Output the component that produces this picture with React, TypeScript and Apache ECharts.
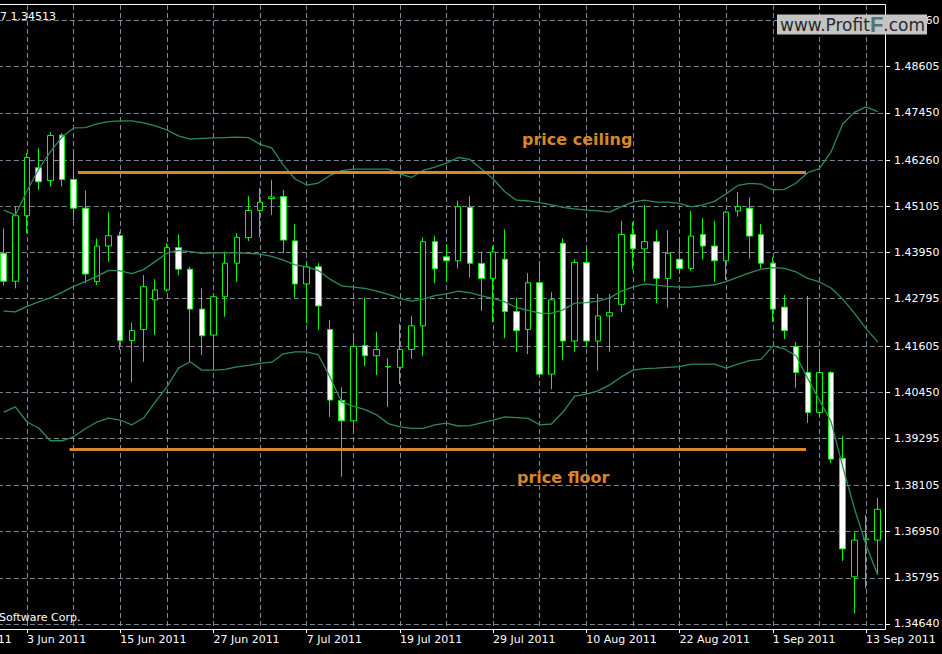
import React, { useEffect, useRef } from "react";
import * as echarts from "echarts";

const categories = [
  "1 Jun 2011", "2 Jun 2011", "3 Jun 2011", "6 Jun 2011", "7 Jun 2011", "8 Jun 2011", "9 Jun 2011", "10 Jun 2011",
  "13 Jun 2011", "14 Jun 2011", "15 Jun 2011", "16 Jun 2011", "17 Jun 2011", "20 Jun 2011", "21 Jun 2011", "22 Jun 2011",
  "23 Jun 2011", "24 Jun 2011", "27 Jun 2011", "28 Jun 2011", "29 Jun 2011", "30 Jun 2011",
  "1 Jul 2011", "4 Jul 2011", "5 Jul 2011", "6 Jul 2011", "7 Jul 2011", "8 Jul 2011", "11 Jul 2011", "12 Jul 2011",
  "13 Jul 2011", "14 Jul 2011", "15 Jul 2011", "18 Jul 2011", "19 Jul 2011", "20 Jul 2011", "21 Jul 2011", "22 Jul 2011",
  "25 Jul 2011", "26 Jul 2011", "27 Jul 2011", "28 Jul 2011", "29 Jul 2011",
  "1 Aug 2011", "2 Aug 2011", "3 Aug 2011", "4 Aug 2011", "5 Aug 2011", "8 Aug 2011", "9 Aug 2011", "10 Aug 2011",
  "11 Aug 2011", "12 Aug 2011", "15 Aug 2011", "16 Aug 2011", "17 Aug 2011", "18 Aug 2011", "19 Aug 2011", "22 Aug 2011",
  "23 Aug 2011", "24 Aug 2011", "25 Aug 2011", "26 Aug 2011", "29 Aug 2011", "30 Aug 2011", "31 Aug 2011",
  "1 Sep 2011", "2 Sep 2011", "5 Sep 2011", "6 Sep 2011", "7 Sep 2011", "8 Sep 2011", "9 Sep 2011", "12 Sep 2011",
  "13 Sep 2011", "14 Sep 2011",
];

const xLabelDates = [
  "3 Jun 2011", "15 Jun 2011", "27 Jun 2011", "7 Jul 2011", "19 Jul 2011",
  "29 Jul 2011", "10 Aug 2011", "22 Aug 2011", "1 Sep 2011", "13 Sep 2011",
];
const partialLeftLabel = "24 May 2011";

const yTicks = [
  1.3464, 1.35795, 1.3695, 1.38105, 1.39295, 1.4045, 1.41605,
  1.42795, 1.4395, 1.45105, 1.4626, 1.4745, 1.48605, 1.4976,
];

// [open, close, low, high]
const candles = [
  [1.4393, 1.4323, 1.4313, 1.4455], [1.4323, 1.4487, 1.4305, 1.4510], [1.4487, 1.4633, 1.4443, 1.4644],
  [1.4607, 1.4572, 1.4552, 1.4656], [1.4575, 1.4688, 1.4560, 1.4696], [1.4689, 1.4578, 1.4560, 1.4694],
  [1.4578, 1.4506, 1.4476, 1.4648], [1.4506, 1.4341, 1.4318, 1.4550], [1.4322, 1.4411, 1.4313, 1.4430],
  [1.4411, 1.4437, 1.4372, 1.4496], [1.4437, 1.4174, 1.4151, 1.4447], [1.4174, 1.4199, 1.4069, 1.4219],
  [1.4202, 1.4309, 1.4121, 1.4338], [1.4276, 1.4301, 1.4188, 1.4328], [1.4301, 1.4407, 1.4296, 1.4418],
  [1.4407, 1.4353, 1.4338, 1.4440], [1.4353, 1.4253, 1.4121, 1.4359], [1.4253, 1.4186, 1.4138, 1.4305],
  [1.4188, 1.4284, 1.4100, 1.4293], [1.4284, 1.4368, 1.4234, 1.4397], [1.4368, 1.4433, 1.4322, 1.4443],
  [1.4432, 1.4500, 1.4424, 1.4536], [1.4500, 1.4521, 1.4433, 1.4556], [1.4530, 1.4534, 1.4489, 1.4577],
  [1.4535, 1.4426, 1.4393, 1.4552], [1.4424, 1.4316, 1.4282, 1.4466], [1.4316, 1.4359, 1.4217, 1.4369],
  [1.4359, 1.4261, 1.4201, 1.4368], [1.4202, 1.4025, 1.3983, 1.4226], [1.4024, 1.3973, 1.3833, 1.4057],
  [1.3973, 1.4159, 1.3946, 1.4190], [1.4162, 1.4136, 1.4110, 1.4282], [1.4136, 1.4152, 1.4088, 1.4196],
  [1.4109, 1.4108, 1.4008, 1.4130], [1.4107, 1.4152, 1.4065, 1.4216], [1.4152, 1.4211, 1.4128, 1.4236],
  [1.4211, 1.4422, 1.4136, 1.4433], [1.4422, 1.4354, 1.4318, 1.4437], [1.4384, 1.4374, 1.4322, 1.4416],
  [1.4374, 1.4510, 1.4355, 1.4525], [1.4508, 1.4368, 1.4333, 1.4536], [1.4367, 1.4330, 1.4249, 1.4397],
  [1.4330, 1.4396, 1.4220, 1.4411], [1.4378, 1.4247, 1.4180, 1.4453], [1.4247, 1.4199, 1.4146, 1.4282],
  [1.4202, 1.4319, 1.4140, 1.4343], [1.4319, 1.4090, 1.4084, 1.4368], [1.4090, 1.4276, 1.4052, 1.4295],
  [1.4418, 1.4173, 1.4125, 1.4430], [1.4173, 1.4370, 1.4146, 1.4378], [1.4370, 1.4173, 1.4157, 1.4403],
  [1.4173, 1.4236, 1.4099, 1.4291], [1.4236, 1.4244, 1.4146, 1.4291], [1.4265, 1.4440, 1.4245, 1.4474],
  [1.4440, 1.4404, 1.4353, 1.4471], [1.4404, 1.4422, 1.4322, 1.4514], [1.4422, 1.4330, 1.4268, 1.4451],
  [1.4330, 1.4393, 1.4257, 1.4451], [1.4378, 1.4355, 1.4344, 1.4433], [1.4355, 1.4436, 1.4349, 1.4499],
  [1.4440, 1.4411, 1.4378, 1.4481], [1.4411, 1.4374, 1.4322, 1.4474], [1.4374, 1.4496, 1.4326, 1.4499],
  [1.4499, 1.4510, 1.4485, 1.4546], [1.4506, 1.4436, 1.4380, 1.4533], [1.4440, 1.4368, 1.4355, 1.4466],
  [1.4368, 1.4253, 1.4221, 1.4383], [1.4258, 1.4199, 1.4178, 1.4288], [1.4159, 1.4094, 1.4056, 1.4171],
  [1.4094, 1.3994, 1.3968, 1.4286], [1.3994, 1.4094, 1.3985, 1.4146], [1.4094, 1.3877, 1.3867, 1.4098],
  [1.3879, 1.3652, 1.3622, 1.3935], [1.3582, 1.3674, 1.3491, 1.3693], [1.3675, 1.3677, 1.3553, 1.3737],
  [1.3674, 1.3751, 1.3587, 1.3780],
];

const upperBand = [
  1.4501, 1.4489, 1.4549, 1.4604, 1.4647, 1.4684, 1.4707, 1.4708, 1.4717, 1.4723, 1.4725, 1.4725, 1.4720, 1.4712,
  1.4702, 1.4687, 1.4679, 1.4681, 1.4682, 1.4683, 1.4684, 1.4683, 1.4666, 1.4657, 1.4614, 1.4579, 1.4564,
  1.4569, 1.4588, 1.4600, 1.4604, 1.4604, 1.4604, 1.4604, 1.4592, 1.4583, 1.4601, 1.4609, 1.4619, 1.4633, 1.4628,
  1.4604, 1.4579, 1.4547, 1.4526, 1.4524, 1.4520, 1.4514, 1.4508, 1.4504, 1.4501, 1.4499, 1.4496, 1.4510,
  1.4521, 1.4526, 1.4521, 1.4521, 1.4518, 1.4509, 1.4514, 1.4523, 1.4542, 1.4563, 1.4568, 1.4566, 1.4552, 1.4553,
  1.4569, 1.4595, 1.4605, 1.4647, 1.4717, 1.4746, 1.4760, 1.4748,
];

const middleBand = [
  1.4248, 1.4246, 1.4260, 1.4271, 1.4281, 1.4295, 1.4310, 1.4322, 1.4335, 1.4350, 1.4349, 1.4342, 1.4352, 1.4372,
  1.4393, 1.4400, 1.4397, 1.4393, 1.4394, 1.4394, 1.4394, 1.4393, 1.4391, 1.4385, 1.4376, 1.4364, 1.4359,
  1.4350, 1.4328, 1.4311, 1.4308, 1.4305, 1.4298, 1.4290, 1.4280, 1.4273, 1.4278, 1.4287, 1.4291, 1.4298, 1.4294,
  1.4286, 1.4280, 1.4271, 1.4257, 1.4250, 1.4243, 1.4242, 1.4251, 1.4268, 1.4269, 1.4273, 1.4281,
  1.4298, 1.4308, 1.4316, 1.4313, 1.4310, 1.4308, 1.4308, 1.4311, 1.4314, 1.4322, 1.4333, 1.4344, 1.4353, 1.4357,
  1.4355, 1.4346, 1.4330, 1.4321, 1.4306, 1.4278, 1.4243, 1.4204, 1.4171,
];

const lowerBand = [
  1.3995, 1.4008, 1.3970, 1.3955, 1.3923, 1.3923, 1.3933, 1.3953, 1.3970, 1.3980, 1.3975, 1.3963, 1.3980, 1.4020,
  1.4058, 1.4105, 1.4121, 1.4100, 1.4100, 1.4102, 1.4108, 1.4112, 1.4117, 1.4120, 1.4141, 1.4146, 1.4146, 1.4138,
  1.4083, 1.4020,
  1.4010, 1.4001, 1.3988, 1.3966, 1.3958, 1.3954, 1.3954, 1.3963, 1.3967, 1.3960, 1.3961, 1.3968, 1.3975, 1.3983,
  1.3981, 1.3979, 1.3963, 1.3965, 1.3995, 1.4035,
  1.4040, 1.4048, 1.4063, 1.4083, 1.4100, 1.4104, 1.4105, 1.4107, 1.4109, 1.4115, 1.4115, 1.4115, 1.4105, 1.4115,
  1.4124, 1.4127, 1.4161, 1.4153, 1.4136, 1.4079, 1.4025, 1.3971, 1.3858, 1.3754, 1.3662, 1.3587,
];

const ceilingLevel = 1.4596;
const floorLevel = 1.3902;
const headerText = "7 1.34513";
const copyrightText = "Software Corp.";

const FONT = "'DejaVu Sans', sans-serif";
const GRID_COLOR = "#778899";
const BAND_COLOR = "#2e8b57";
const ORANGE = "#d4882c";

export default function App() {
  const ref = useRef<HTMLDivElement>(null);

  useEffect(() => {
    if (!ref.current) return;
    const chart = echarts.init(ref.current, null, { renderer: "svg" });
    const bandStyle = { color: BAND_COLOR, width: 1.3 };
    const option: any = {
      animation: false,
      backgroundColor: "#000",
      grid: { left: -2.13, right: 58.5, top: 5, bottom: 25, containLabel: false, outerBoundsMode: "none" },
      xAxis: {
        type: "category",
        data: categories,
        boundaryGap: true,
        axisLine: { show: false },
        axisTick: {
          show: true,
          alignWithLabel: true,
          length: 4,
          interval: (_i: number, v: string) => xLabelDates.includes(v),
          lineStyle: { color: "#ffffff", width: 1 },
        },
        axisLabel: {
          interval: (_i: number, v: string) => xLabelDates.includes(v),
          align: "left",
          color: "#ffffff",
          fontFamily: FONT,
          fontSize: 11,
          margin: 5,
        },
        splitLine: {
          show: true,
          alignWithLabel: true,
          interval: (i: number) => i % 4 === 2,
          lineStyle: { color: GRID_COLOR, type: [5, 3], width: 1 },
        },
      },
      yAxis: {
        type: "value",
        position: "right",
        offset: 2.5,
        min: 1.34512,
        max: 1.50152,
        axisLine: { show: false },
        axisTick: { show: true, length: 4, customValues: yTicks, lineStyle: { color: "#ffffff" } },
        axisLabel: {
          customValues: yTicks,
          formatter: (v: number) => v.toFixed(5),
          color: "#ffffff",
          fontFamily: FONT,
          fontSize: 11,
          margin: 8,
        },
        splitLine: { show: true, lineStyle: { color: GRID_COLOR, type: [5, 3], width: 1 } },
      },
      series: [
        {
          type: "candlestick",
          data: candles,
          barWidth: 6,
          silent: true,
          itemStyle: {
            color: "#000000",
            color0: "#ffffff",
            borderColor: "#00ff00",
            borderColor0: "#00ff00",
            borderWidth: 1,
          },
          z: 2,
        },
        { type: "line", data: upperBand, symbol: "none", silent: true, lineStyle: bandStyle, z: 3 },
        { type: "line", data: middleBand, symbol: "none", silent: true, lineStyle: bandStyle, z: 3 },
        {
          type: "line",
          data: lowerBand,
          symbol: "none",
          silent: true,
          lineStyle: bandStyle,
          z: 3,
          markLine: {
            silent: true,
            symbol: ["none", "none"],
            label: { show: false },
            lineStyle: { color: ORANGE, width: 3, type: "solid" },
            data: [
              [{ x: 78, yAxis: ceilingLevel }, { x: 806, yAxis: ceilingLevel }],
              [{ x: 69.5, yAxis: floorLevel }, { x: 806, yAxis: floorLevel }],
            ],
          },
        },
      ],
      graphic: [
        {
          type: "rect",
          silent: true,
          z: 50,
          shape: { x: -10, y: 4.5, width: 895.5, height: 625 },
          style: { fill: "none", stroke: "#ffffff", lineWidth: 1 },
        },
        {
          type: "text",
          x: 0,
          y: 16,
          z: 50,
          style: { text: headerText, fill: "#ffffff", fontFamily: FONT, fontSize: 11, align: "left", verticalAlign: "middle" },
        },
        {
          type: "text",
          x: -1,
          y: 617,
          z: 50,
          style: { text: copyrightText, fill: "#ffffff", fontFamily: FONT, fontSize: 11, align: "left", verticalAlign: "middle" },
        },
        {
          type: "text",
          x: -60,
          y: 634,
          z: 50,
          style: { text: partialLeftLabel, fill: "#ffffff", fontFamily: FONT, fontSize: 11, align: "left", verticalAlign: "top" },
        },
        {
          type: "text",
          x: 522,
          y: 139,
          z: 60,
          style: { text: "price ceiling", fill: ORANGE, fontFamily: FONT, fontSize: 16, fontWeight: "bold", align: "left", verticalAlign: "middle" },
        },
        {
          type: "text",
          x: 517,
          y: 477,
          z: 60,
          style: { text: "price floor", fill: ORANGE, fontFamily: FONT, fontSize: 16, fontWeight: "bold", align: "left", verticalAlign: "middle" },
        },
        {
          type: "group",
          z: 100,
          children: [
            {
              type: "rect",
              z: 100,
              shape: { x: 777, y: 14.5, width: 150, height: 20 },
              style: { fill: "#c4c4c4" },
            },
            {
              type: "text",
              z: 101,
              x: 780,
              y: 24.5,
              style: {
                text: "{a|www.Profit}{b|F}{a|.com}",
                align: "left",
                verticalAlign: "middle",
                rich: {
                  a: { fontFamily: FONT, fontSize: 17, fill: "#2a2a2a" },
                  b: { fontFamily: "'Liberation Sans', sans-serif", fontSize: 22, fontWeight: "bold", fill: "#4f7679" },
                },
              },
            },
          ],
        },
      ],
    };
    chart.setOption(option);
    return () => chart.dispose();
  }, []);

  return (
    <div
      ref={ref}
      style={{ position: "absolute", left: 0, top: 0, width: 942, height: 654, background: "#000" }}
    />
  );
}
